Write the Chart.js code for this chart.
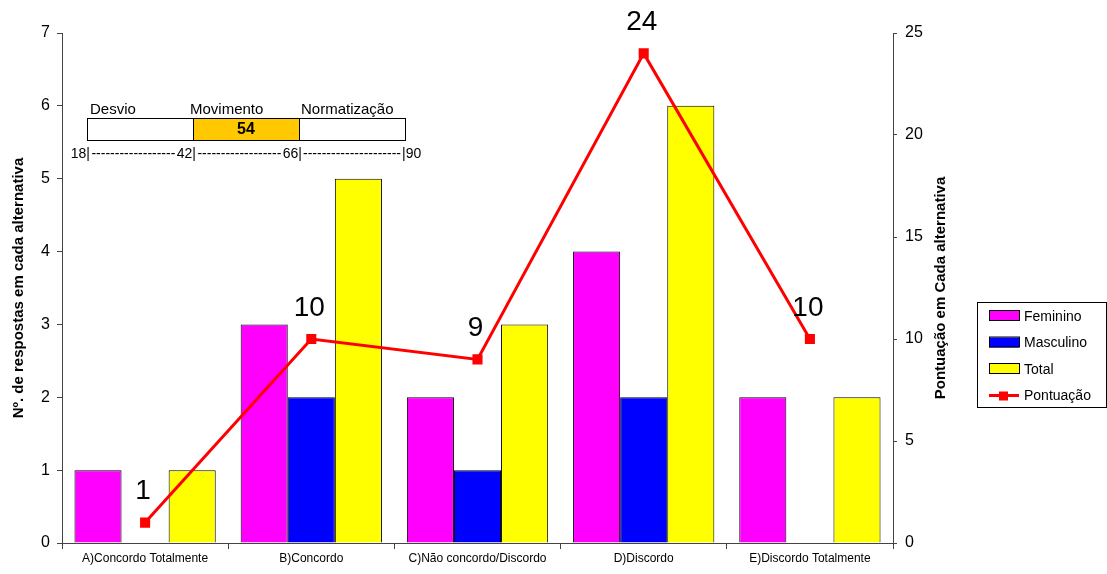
<!DOCTYPE html>
<html>
<head>
<meta charset="utf-8">
<script src="https://cdn.jsdelivr.net/npm/chart.js@4/dist/chart.umd.min.js"></script>
<style>
    html, body { margin: 0; padding: 0; background: #ffffff; }
    #wrap { width: 1107px; height: 574px; }
</style>
</head>
<body>
<div id="wrap"><canvas id="respChart" width="1107" height="574"></canvas></div>
<script>
// Chart values.
var categories = ["A)Concordo Totalmente", "B)Concordo", "C)Não concordo/Discordo", "D)Discordo", "E)Discordo Totalmente"];
var feminino = [1, 3, 2, 4, 2];
var masculino = [0, 2, 1, 2, 0];
var total = [1, 5, 3, 6, 2];
var pontuacao = [1, 10, 9, 24, 10];

// Inset scale (Desvio / Movimento / Normatização).
var insetTicks = [18, 42, 66, 90];
var insetZones = ["Desvio", "Movimento", "Normatização"];
var insetScore = 54;

var FONT = "'Liberation Sans', Arial, sans-serif";

/**
 * Draws the labels above the line points, the inset box,
 * the right axis title and the legend.
 */
var extrasPlugin = {
    id: "extras",
    afterDraw: function (chart) {
        var ctx = chart.ctx;
        var area = chart.chartArea;
        ctx.save();

        // Point labels for the score line.
        var meta = chart.getDatasetMeta(3);
        ctx.fillStyle = "#000";
        ctx.font = "28px " + FONT;
        ctx.textAlign = "center";
        ctx.textBaseline = "middle";
        meta.data.forEach(function (pt, i) {
            ctx.fillText(String(pontuacao[i]), pt.x - 2, pt.y - 31);
        });

        // Inset box.
        var bx0 = 87, bx1 = 405, by0 = 118, by1 = 140;
        function sx(v) {
            return bx0 + (v - insetTicks[0]) / (insetTicks[3] - insetTicks[0]) * (bx1 - bx0);
        }
        var zone = 0;
        for (var z = 0; z < 3; z++) {
            if (insetScore >= insetTicks[z] && insetScore <= insetTicks[z + 1]) zone = z;
        }
        ctx.fillStyle = "#fff";
        ctx.fillRect(bx0, by0, bx1 - bx0, by1 - by0);
        ctx.fillStyle = "#FFC800";
        ctx.fillRect(sx(insetTicks[zone]), by0, sx(insetTicks[zone + 1]) - sx(insetTicks[zone]), by1 - by0);
        ctx.strokeStyle = "#000";
        ctx.lineWidth = 1;
        ctx.strokeRect(bx0 + 0.5, by0 + 0.5, bx1 - bx0, by1 - by0);
        ctx.beginPath();
        ctx.moveTo(Math.round(sx(insetTicks[1])) + 0.5, by0);
        ctx.lineTo(Math.round(sx(insetTicks[1])) + 0.5, by1);
        ctx.moveTo(Math.round(sx(insetTicks[2])) + 0.5, by0);
        ctx.lineTo(Math.round(sx(insetTicks[2])) + 0.5, by1);
        ctx.stroke();

        ctx.fillStyle = "#000";
        ctx.font = "bold 16px " + FONT;
        ctx.textAlign = "center";
        ctx.fillText(String(insetScore), (sx(insetTicks[zone]) + sx(insetTicks[zone + 1])) / 2, 130);

        ctx.font = "15px " + FONT;
        ctx.textAlign = "left";
        ctx.textBaseline = "alphabetic";
        ctx.fillText(insetZones[0], 90, 114);
        ctx.fillText(insetZones[1], 190, 114);
        ctx.fillText(insetZones[2], 301, 114);

        // Scale row under the box: 18|-----42|-----66|-----|90
        var ry = 158;
        ctx.font = "14px " + FONT;
        var dashW = ctx.measureText("-").width;
        function dashes(x0, x1) {
            var n = Math.max(0, Math.floor((x1 - x0) / dashW));
            var pad = (x1 - x0 - n * dashW) / 2;
            ctx.textAlign = "left";
            ctx.fillText(new Array(n + 1).join("-"), x0 + pad, ry);
        }
        var stops = [];
        for (var k = 0; k < 3; k++) {
            var lbl = insetTicks[k] + "|";
            var xr = sx(insetTicks[k]) + 3;
            ctx.textAlign = "right";
            ctx.fillText(lbl, xr, ry);
            stops.push({start: xr - ctx.measureText(lbl).width, end: xr});
        }
        var lastLbl = "|" + insetTicks[3];
        var lastX = sx(insetTicks[3]) - 3;
        ctx.textAlign = "left";
        ctx.fillText(lastLbl, lastX, ry);
        stops.push({start: lastX, end: lastX + ctx.measureText(lastLbl).width});
        for (var s = 0; s < 3; s++) {
            dashes(stops[s].end, stops[s + 1].start);
        }

        // Right axis title, reading bottom to top.
        ctx.save();
        ctx.translate(941, (area.top + area.bottom) / 2);
        ctx.rotate(-Math.PI / 2);
        ctx.font = "bold 15px " + FONT;
        ctx.textAlign = "center";
        ctx.textBaseline = "middle";
        ctx.fillText("Pontuação em Cada alternativa", 0, 0);
        ctx.restore();

        // Legend box.
        var lx = 977, ly = 302, lw = 130, lh = 106;
        ctx.fillStyle = "#fff";
        ctx.fillRect(lx, ly, lw, lh);
        ctx.strokeStyle = "#000";
        ctx.lineWidth = 1;
        ctx.strokeRect(lx + 0.5, ly + 0.5, lw - 1, lh - 1);
        ctx.font = "14px " + FONT;
        ctx.textAlign = "left";
        ctx.textBaseline = "middle";
        for (var i = 0; i < 4; i++) {
            var ds = chart.data.datasets[i];
            var cy = 316 + i * 26.5;
            if (ds.type === "line") {
                ctx.strokeStyle = ds.borderColor;
                ctx.lineWidth = 3;
                ctx.beginPath();
                ctx.moveTo(989, cy);
                ctx.lineTo(1019, cy);
                ctx.stroke();
                ctx.fillStyle = ds.borderColor;
                ctx.fillRect(999, cy - 4, 9, 9);
            } else {
                ctx.fillStyle = ds.backgroundColor;
                ctx.fillRect(989, cy - 5, 30, 10);
                ctx.strokeStyle = "#000";
                ctx.lineWidth = 1;
                ctx.strokeRect(989.5, cy - 5.5, 30, 10);
            }
            ctx.fillStyle = "#000";
            ctx.fillText(ds.label, 1024, cy + 1);
        }
        ctx.restore();
    }
};

document.addEventListener("DOMContentLoaded", function () {
    var ctx = document.getElementById("respChart").getContext("2d");

    new Chart(ctx, {
        type: "bar",
        data: {
            labels: categories,
            datasets: [
                {label: "Feminino", data: feminino, backgroundColor: "#FF00FF", borderColor: "#000", borderWidth: 1, yAxisID: "y", order: 2},
                {label: "Masculino", data: masculino, backgroundColor: "#0000FF", borderColor: "#000", borderWidth: 1, yAxisID: "y", order: 2},
                {label: "Total", data: total, backgroundColor: "#FFFF00", borderColor: "#000", borderWidth: 1, yAxisID: "y", order: 2},
                {
                    type: "line",
                    label: "Pontuação",
                    data: pontuacao,
                    yAxisID: "y2",
                    borderColor: "#FF0000",
                    backgroundColor: "#FF0000",
                    borderWidth: 3,
                    pointStyle: "rect",
                    pointRadius: 5,
                    tension: 0,
                    order: 1
                }
            ]
        },
        options: {
            responsive: false,
            animation: false,
            layout: {padding: {top: 33, left: 0, right: 0, bottom: 0}},
            datasets: {bar: {categoryPercentage: 0.85, barPercentage: 1}},
            plugins: {legend: {display: false}, tooltip: {enabled: false}},
            scales: {
                x: {
                    offset: true,
                    grid: {offset: true, drawOnChartArea: false, drawTicks: true, tickLength: 6, color: "#444"},
                    border: {color: "#444", width: 1},
                    ticks: {color: "#000", font: {family: FONT, size: 12}, maxRotation: 0, autoSkip: false, padding: 2},
                    afterFit: function (scale) { scale.height = 31; }
                },
                y: {
                    position: "left",
                    min: 0,
                    max: 7,
                    grid: {drawOnChartArea: false, drawTicks: true, tickLength: 5, color: "#444"},
                    border: {color: "#444", width: 1},
                    ticks: {stepSize: 1, color: "#000", font: {family: FONT, size: 16}, padding: 7},
                    title: {display: true, text: "Nº. de respostas em cada alternativa", color: "#000", font: {family: FONT, size: 15, weight: "bold"}, padding: {top: 10, bottom: 0}},
                    afterFit: function (scale) { scale.width = 62; }
                },
                y2: {
                    position: "right",
                    min: 0,
                    max: 25,
                    grid: {drawOnChartArea: false, drawTicks: true, tickLength: 4, color: "#444"},
                    border: {color: "#444", width: 1},
                    ticks: {stepSize: 5, color: "#000", font: {family: FONT, size: 16}, padding: 8},
                    afterFit: function (scale) { scale.width = 214; }
                }
            }
        },
        plugins: [extrasPlugin]
    });
});
</script>
</body>
</html>
